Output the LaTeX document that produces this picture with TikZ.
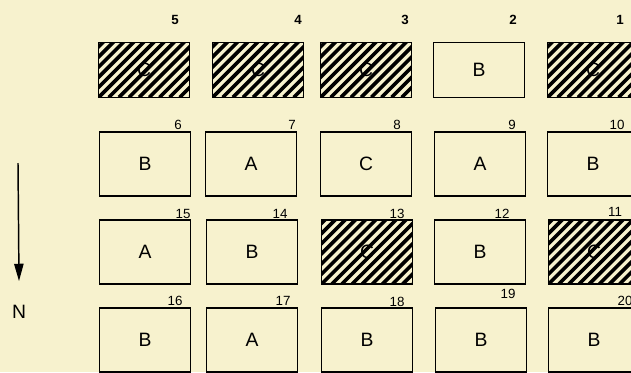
\documentclass[tikz,border=0pt]{standalone}
\usepackage{fontspec}
\setmainfont{Liberation Sans}
\usetikzlibrary{arrows.meta}

\definecolor{paper}{RGB}{247,242,206}

\begin{document}
\begin{tikzpicture}[x=0.75pt,y=-0.75pt]

	\tikzset{
		plotbox/.style={
			draw,
			rectangle,
			line width=1.2pt,
			fill=paper,
			minimum width=68pt,
			minimum height=48pt,
			inner sep=0pt,
			font=\fontsize{14.5}{16}\selectfont
		},
		short/.style={
			minimum height=41pt
		},
		fallow/.style={
			plotbox,
			path picture={
				\foreach \k in {-8,...,10}
				\draw[line width=2.7pt,black]
				([xshift=\k*7.6pt]path picture bounding box.south west) -- ++(60pt,60pt);
			}
		},
		plotno/.style={
			inner sep=0pt,
			font=\fontsize{10}{12}\selectfont
		},
		topno/.style={
			inner sep=0pt,
			font=\bfseries\fontsize{10}{12}\selectfont
		}
	}

	\useasboundingbox (0,0) rectangle (631,372);
	\fill[paper] (0,0) rectangle (631,372);

	% ROW 1
	\node[fallow, short] (p5) at (144,70) {C};
	\node[fallow, short] (p4) at (258,70) {C};
	\node[fallow, short] (p3) at (366,70) {C};
	\node[plotbox, short] (p2) at (479,70) {B};
	\node[fallow, short] (p1) at (593,70) {C};

	% ROW 2
	\node[plotbox] (p6) at (145,164) {B};
	\node[plotbox] (p7) at (251,164) {A};
	\node[plotbox] (p8) at (366,164) {C};
	\node[plotbox] (p9) at (480,164) {A};
	\node[plotbox] (p10) at (593,164) {B};

	% ROW 3
	\node[plotbox] (p15) at (145,252) {A};
	\node[plotbox] (p14) at (252,252) {B};
	\node[fallow] (p13) at (367,252) {C};
	\node[plotbox] (p12) at (480,252) {B};
	\node[fallow] (p11) at (594,252) {C};

	% ROW 4
	\node[plotbox] (p16) at (145,340) {B};
	\node[plotbox] (p17) at (252,340) {A};
	\node[plotbox] (p18) at (367,340) {B};
	\node[plotbox] (p19) at (481,340) {B};
	\node[plotbox] (p20) at (594,340) {B};

	% PLOT NUMBERS
	\node[topno] (n5) at (175,20) {5};
	\node[topno] (n4) at (298,20) {4};
	\node[topno] (n3) at (405,20) {3};
	\node[topno] (n2) at (513,20) {2};
	\node[topno] (n1) at (620,20) {1};

	\node[plotno] (n6) at (178,125) {6};
	\node[plotno] (n7) at (292,125) {7};
	\node[plotno] (n8) at (397,125) {8};
	\node[plotno] (n9) at (512,125) {9};
	\node[plotno] (n10) at (617,125) {10};

	\node[plotno] (n15) at (183,214) {15};
	\node[plotno] (n14) at (280,214) {14};
	\node[plotno] (n13) at (397,214) {13};
	\node[plotno] (n12) at (502,214) {12};
	\node[plotno] (n11) at (615,212) {11};

	\node[plotno] (n16) at (175,301) {16};
	\node[plotno] (n17) at (283,301) {17};
	\node[plotno] (n18) at (397,302) {18};
	\node[plotno] (n19) at (508,294) {19};
	\node[plotno] (n20) at (625,301) {20};

	% NORTH ARROW
	\coordinate (arrtop) at (18,163);
	\node[font=\fontsize{14.5}{16}\selectfont, inner sep=0pt] (north) at (19,312) {N};
	\draw[line width=1.1pt, -{Triangle[length=13pt,width=7pt]}] (arrtop) -- ([yshift=18pt]north.north);

\end{tikzpicture}
\end{document}
